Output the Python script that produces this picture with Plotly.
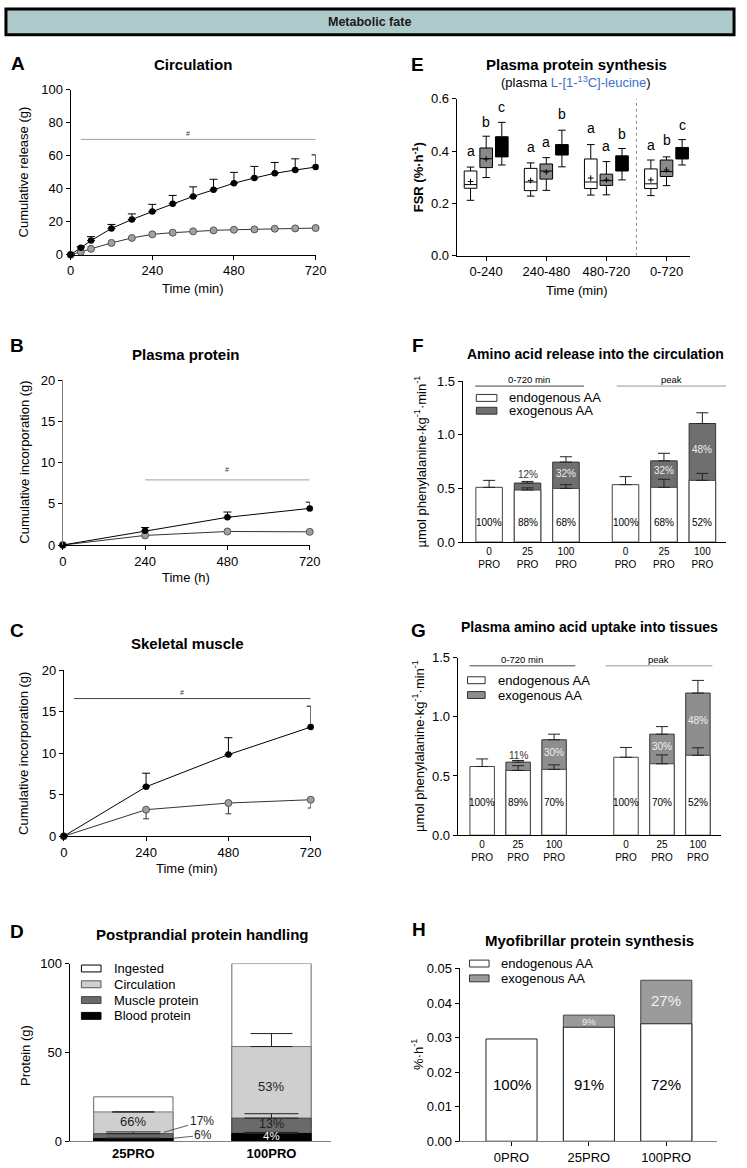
import plotly.graph_objects as go

W, H = 747, 1168
FONT = "Liberation Sans, Arial, sans-serif"

# ---------------- DATA ----------------
# A: Circulation (cumulative release, g)
A_time = [0, 30, 60, 120, 180, 240, 300, 360, 420, 480, 540, 600, 660, 720]
A_100 = [0, 4.2, 8.6, 16.0, 21.4, 26.2, 31.0, 35.4, 39.4, 43.4, 46.6, 49.4, 51.4, 53.2]
A_100_err = [0, 0.8, 2.4, 2.4, 3.4, 4.4, 5.0, 5.8, 6.4, 6.6, 7.0, 6.6, 6.8, 7.4]
A_25 = [0, 1.8, 3.6, 7.2, 10.2, 12.4, 13.4, 14.2, 14.8, 15.2, 15.4, 15.8, 16.0, 16.2]
A_25_err = [0, 0.4, 0.5, 1.0, 1.0, 1.0, 1.0, 1.0, 1.0, 1.0, 1.0, 1.0, 1.0, 1.0]

# B: Plasma protein (cumulative incorporation, g)
B_time = [0, 240, 480, 720]
B_100 = [0, 1.72, 3.36, 4.44]
B_100_err = [0, 0.4, 0.64, 0.76]
B_25 = [0, 1.16, 1.64, 1.6]
B_25_err = [0, 0.2, 0.2, 0.2]

# C: Skeletal muscle (cumulative incorporation, g)
C_time = [0, 240, 480, 720]
C_100 = [0, 5.96, 9.84, 13.16]
C_100_err = [0, 1.64, 2.04, 2.52]
C_25 = [0, 3.2, 4.0, 4.4]
C_25_err = [0, 1.1, 1.3, 1.0]

# D: Postprandial protein handling (g)
D_groups = ["25PRO", "100PRO"]
D_ingested = [25, 100]
D_circulation = [16.5, 53.3]
D_circulation_err = [0, 7.3]
D_muscle = [4.25, 13.0]
D_muscle_err = [1.0, 2.5]
D_blood = [1.5, 4.4]
D_blood_err = [0.3, 0.6]

# E: Plasma protein synthesis FSR (%/h), box summaries
E_periods = ["0-240", "240-480", "480-720", "0-720"]
E_0_low = [0.212, 0.228, 0.232, 0.230]
E_0_q1 = [0.258, 0.249, 0.257, 0.257]
E_0_med = [0.272, 0.282, 0.282, 0.275]
E_0_q3 = [0.324, 0.334, 0.370, 0.332]
E_0_high = [0.339, 0.355, 0.425, 0.366]
E_0_mean = [0.284, 0.288, 0.297, 0.290]
E_25_low = [0.299, 0.250, 0.233, 0.268]
E_25_q1 = [0.337, 0.293, 0.269, 0.303]
E_25_med = [0.371, 0.324, 0.287, 0.322]
E_25_q3 = [0.412, 0.351, 0.312, 0.366]
E_25_high = [0.457, 0.375, 0.360, 0.378]
E_25_mean = [0.370, 0.320, 0.290, 0.328]
E_100_low = [0.347, 0.340, 0.290, 0.347]
E_100_q1 = [0.378, 0.385, 0.324, 0.370]
E_100_med = [0.410, 0.400, 0.350, 0.390]
E_100_q3 = [0.455, 0.425, 0.382, 0.414]
E_100_high = [0.510, 0.480, 0.410, 0.444]
E_letters_0 = ["a", "a", "a", "a"]
E_letters_25 = ["b", "a", "a", "b"]
E_letters_100 = ["c", "b", "b", "c"]
E_letter_y_0 = [0.400, 0.415, 0.487, 0.425]
E_letter_y_25 = [0.512, 0.435, 0.418, 0.443]
E_letter_y_100 = [0.569, 0.541, 0.466, 0.501]

# F: Amino acid release into circulation
F_labels = ["0<br>PRO", "25<br>PRO", "100<br>PRO", "0<br>PRO", "25<br>PRO", "100<br>PRO"]
F_endo = [0.51, 0.485, 0.50, 0.535, 0.51, 0.575]
F_endo_err = [0.065, 0.02, 0.035, 0.075, 0.075, 0.065]
F_exo = [0, 0.065, 0.245, 0, 0.247, 0.53]
F_total_err = [0, 0.015, 0.05, 0, 0.07, 0.10]
F_endo_pct = ["100%", "88%", "68%", "100%", "68%", "52%"]
F_exo_pct = ["", "12%", "32%", "", "32%", "48%"]

# G: Plasma amino acid uptake into tissues
G_labels = ["0<br>PRO", "25<br>PRO", "100<br>PRO", "0<br>PRO", "25<br>PRO", "100<br>PRO"]
G_endo = [0.58, 0.547, 0.556, 0.658, 0.603, 0.675]
G_endo_err = [0.064, 0.04, 0.038, 0.083, 0.075, 0.063]
G_exo = [0, 0.07, 0.25, 0, 0.25, 0.525]
G_total_err = [0, 0.014, 0.047, 0, 0.064, 0.107]
G_endo_pct = ["100%", "89%", "70%", "100%", "70%", "52%"]
G_exo_pct = ["", "11%", "30%", "", "30%", "48%"]

# H: Myofibrillar protein synthesis
H_groups = ["0PRO", "25PRO", "100PRO"]
H_endo = [0.0296, 0.033, 0.034]
H_exo = [0, 0.0035, 0.0126]
H_endo_pct = ["100%", "91%", "72%"]
H_exo_pct = ["", "9%", "27%"]

# ---------------- helpers ----------------
def xd(a, b):
    return [a / W, b / W]

def yd(top, bottom):
    return [1 - bottom / H, 1 - top / H]

def PX(x):
    return x / W

def PY(y):
    return 1 - y / H

fig = go.Figure()
annotations = []
shapes = []

def ann(x, y, text, size=13, bold=False, xanchor="center", yanchor="middle",
        color="black", angle=0, xref="paper", yref="paper"):
    if bold:
        text = "<b>" + text + "</b>"
    if xref == "paper":
        x = PX(x)
    if yref == "paper":
        y = PY(y)
    annotations.append(dict(x=x, y=y, xref=xref, yref=yref, text=text, showarrow=False,
                            xanchor=xanchor, yanchor=yanchor, textangle=angle,
                            font=dict(size=size, color=color, family=FONT)))

def axis_common(**kw):
    d = dict(showline=True, linecolor="black", linewidth=1, ticks="outside", ticklen=4,
             tickwidth=1, tickcolor="black", showgrid=False, zeroline=False,
             tickfont=dict(size=13, color="black", family=FONT), fixedrange=True)
    d.update(kw)
    return d

layout_axes = {}

def set_axes(i, xdom, ydom, xkw, ykw):
    sx = "" if i == 1 else str(i)
    layout_axes["xaxis" + sx] = axis_common(domain=xdom, anchor="y" + sx, **xkw)
    layout_axes["yaxis" + sx] = axis_common(domain=ydom, anchor="x" + sx, **ykw)

# ---------------- Header ----------------
shapes.append(dict(type="rect", xref="paper", yref="paper", x0=PX(2), x1=PX(745),
                   y0=PY(2), y1=PY(28), fillcolor="#adc9c9", line=dict(color="black", width=3)))
ann(373, 15, "Metabolic fate", size=12.5, bold=True, color="#1a1a1a")

# ---------------- line panels A, B, C ----------------
def line_panel(i, t, y100, e100, y25, e25, hash_x0, hash_y, hash_tx, hash_ty, hash_color):
    sx = "" if i == 1 else str(i)
    zeros = [0] * len(t)
    fig.add_trace(go.Scatter(x=t, y=y25, mode="lines+markers", xaxis="x" + sx, yaxis="y" + sx,
                             line=dict(color="#333333", width=1),
                             marker=dict(color="#a0a0a0", size=7, line=dict(color="#555555", width=1)),
                             error_y=dict(type="data", symmetric=False, array=zeros, arrayminus=e25,
                                          color="#333333", width=3, thickness=1),
                             cliponaxis=False, showlegend=False))
    fig.add_trace(go.Scatter(x=t, y=y100, mode="lines+markers", xaxis="x" + sx, yaxis="y" + sx,
                             line=dict(color="black", width=1),
                             marker=dict(color="black", size=6.5),
                             error_y=dict(type="data", symmetric=False, array=e100, arrayminus=zeros,
                                          color="black", width=4, thickness=1),
                             cliponaxis=False, showlegend=False))
    shapes.append(dict(type="line", xref="x" + sx, yref="y" + sx, x0=hash_x0, x1=720,
                       y0=hash_y, y1=hash_y, line=dict(color=hash_color, width=1)))
    ann(hash_tx, hash_ty, "#", size=7, color="#333", xref="x" + sx, yref="y" + sx)

line_panel(1, A_time, A_100, A_100_err, A_25, A_25_err, 30, 70, 344, 73.5, "#a0a0a0")
set_axes(1, xd(68, 318), yd(84, 251),
         dict(range=[0, 720], tickvals=[0, 240, 480, 720]),
         dict(range=[0, 100], tickvals=[0, 20, 40, 60, 80, 100]))
ann(5, 57, "A", size=19, bold=True, xanchor="left")
ann(193, 58, "Circulation", size=15, bold=True)
ann(20, 167, "Cumulative release (g)", angle=-90)
ann(193, 285, "Time (min)")

line_panel(2, B_time, B_100, B_100_err, B_25, B_25_err, 240, 7.9, 480, 9.2, "#a0a0a0")
set_axes(2, xd(60, 312), yd(378, 545),
         dict(range=[0, 720], tickvals=[0, 240, 480, 720]),
         dict(range=[0, 20], tickvals=[0, 5, 10, 15, 20], linecolor="#808080"))
ann(4, 343, "B", size=19, bold=True, xanchor="left")
ann(186, 352, "Plasma protein", size=15, bold=True)
ann(20, 461, "Cumulative incorporation (g)", angle=-90)
ann(186, 578, "Time (h)")

line_panel(3, C_time, C_100, C_100_err, C_25, C_25_err, 30, 16.6, 345, 17.3, "#444444")
set_axes(3, xd(61, 313), yd(672, 840),
         dict(range=[0, 720], tickvals=[0, 240, 480, 720]),
         dict(range=[0, 20], tickvals=[0, 5, 10, 15, 20]))
ann(4, 632, "C", size=19, bold=True, xanchor="left")
ann(187, 645, "Skeletal muscle", size=15, bold=True)
ann(20, 756, "Cumulative incorporation (g)", angle=-90)
ann(187, 873, "Time (min)")

# ---------------- D ----------------
D_x = list(range(len(D_groups)))
D_w = 0.574
d_series = [
    (D_ingested, None, "white", "#666666", 0),
    (D_circulation, D_circulation_err, "#cfcfcf", "#777777", 21),
    (D_muscle, D_muscle_err, "#6a6a6a", "#444444", 27),
    (D_blood, D_blood_err, "black", "black", 27),
]
for vals, errs, fc, lc, ew in d_series:
    kw = {}
    if errs is not None:
        kw["error_y"] = dict(type="data", symmetric=False, array=errs, arrayminus=[0] * len(errs),
                             color="#222222", width=ew, thickness=1)
    fig.add_trace(go.Bar(x=D_x, y=vals, width=D_w, xaxis="x4", yaxis="y4",
                         marker=dict(color=fc, line=dict(color=lc, width=1)),
                         showlegend=False, **kw))
set_axes(4, xd(67, 334), yd(969, 1149),
         dict(range=[-0.461, 1.433], tickvals=D_x, ticktext=["<b>%s</b>" % g for g in D_groups],
              ticks="", linecolor="#808080", tickfont=dict(size=13, color="black", family=FONT)),
         dict(range=[0, 100], tickvals=[0, 50, 100]))
ann(4, 937, "D", size=19, bold=True, xanchor="left")
ann(203, 940, "Postprandial protein handling", size=15, bold=True)
ann(22, 1062, "Protein (g)", angle=-90)
ann(0, 11.3, "66%", size=13, color="#222", xref="x4", yref="y4")
ann(1, 31, "53%", size=13, color="#222", xref="x4", yref="y4")
ann(1, 9.6, "13%", size=12.5, color="#222", xref="x4", yref="y4")
ann(1, 3.0, "4%", size=11.5, color="white", xref="x4", yref="y4")
annotations.append(dict(x=0.22, y=5.0, xref="x4", yref="y4", text="17%", showarrow=True,
                        arrowhead=0, arrowwidth=0.8, arrowcolor="#333", ax=38, ay=-11,
                        font=dict(size=12, color="#222", family=FONT)))
annotations.append(dict(x=0.29, y=1.7, xref="x4", yref="y4", text="6%", showarrow=True,
                        arrowhead=0, arrowwidth=0.8, arrowcolor="#333", ax=30, ay=-3,
                        font=dict(size=12, color="#222", family=FONT)))
# legend D
d_leg = [("Ingested", "white", "black"), ("Circulation", "#cfcfcf", "#555"),
         ("Muscle protein", "#6a6a6a", "#444"), ("Blood protein", "black", "black")]
for k, (name, fc, lc) in enumerate(d_leg):
    yc = 974 + k * 16
    shapes.append(dict(type="rect", xref="paper", yref="paper", x0=PX(79), x1=PX(99),
                       y0=PY(yc + 3.5), y1=PY(yc - 3.5), fillcolor=fc, line=dict(color=lc, width=1)))
    ann(110, yc, name, size=13, xanchor="left")

# ---------------- E ----------------
E_x = list(range(len(E_periods)))
off = 0.26
e_sets = [
    (-off, E_0_low, E_0_q1, E_0_med, E_0_q3, E_0_high, E_0_mean, "white"),
    (0, E_25_low, E_25_q1, E_25_med, E_25_q3, E_25_high, E_25_mean, "#8a8a8a"),
    (off, E_100_low, E_100_q1, E_100_med, E_100_q3, E_100_high, None, "black"),
]
for dx, lo, q1, md, q3, hi, mn, fc in e_sets:
    xs = [x + dx for x in E_x]
    fig.add_trace(go.Box(x=xs, lowerfence=lo, q1=q1, median=md, q3=q3, upperfence=hi,
                         width=0.21, whiskerwidth=0.6, fillcolor=fc,
                         line=dict(color="black", width=1), boxpoints=False,
                         xaxis="x5", yaxis="y5", showlegend=False))
    if mn is not None:
        fig.add_trace(go.Scatter(x=xs, y=mn, mode="markers", xaxis="x5", yaxis="y5",
                                 marker=dict(symbol="cross-thin", size=4, line=dict(color="black", width=1)),
                                 showlegend=False))
for dx, letters, ly in [(-off, E_letters_0, E_letter_y_0), (0, E_letters_25, E_letter_y_25),
                        (off, E_letters_100, E_letter_y_100)]:
    for x, l, yv in zip(E_x, letters, ly):
        ann(x + dx, yv, l, size=14, xref="x5", yref="y5")
shapes.append(dict(type="line", xref="x5", yref="y5", x0=2.5, x1=2.5, y0=0, y1=0.6,
                   line=dict(color="#888888", width=1, dash="dot")))
set_axes(5, xd(462, 700), yd(93, 252),
         dict(range=[-0.49, 3.39], tickvals=E_x, ticktext=E_periods),
         dict(range=[0, 0.6], tickvals=[0, 0.2, 0.4, 0.6], tickformat=".1f"))
ann(413, 58, "E", size=19, bold=True, xanchor="left")
ann(584, 58, "Plasma protein synthesis", size=15, bold=True)
ann(584, 76, "(plasma <span style='color:#3a6fd0'>L-[1-<sup>13</sup>C]-leucine</span>)", size=13)
ann(422, 173, "<b>FSR (%·h<sup>-1</sup>)</b>", size=13, angle=-90)
ann(585, 287, "Time (min)")

# ---------------- F & G (overlay bars: total behind, endogenous in front) ----------------
def aa_panel(i, pos, endo, endo_err, exo, tot_err, endo_pct, exo_pct, exo_color, w,
             y_bottom_lbl, above_y, in_y):
    sx = str(i)
    tot = [a + b for a, b in zip(endo, exo)]
    idx = [k for k in range(len(exo)) if exo[k] > 0]
    fig.add_trace(go.Bar(x=[pos[k] for k in idx], y=[tot[k] for k in idx], width=w,
                         xaxis="x" + sx, yaxis="y" + sx,
                         marker=dict(color=exo_color, line=dict(color="#333333", width=1)),
                         error_y=dict(type="data", symmetric=False, array=[tot_err[k] for k in idx],
                                      arrayminus=[0] * len(idx), color="#222", width=6, thickness=1),
                         showlegend=False))
    fig.add_trace(go.Bar(x=pos, y=endo, width=w, xaxis="x" + sx, yaxis="y" + sx,
                         marker=dict(color="white", line=dict(color="#444444", width=1)),
                         error_y=dict(type="data", symmetric=False, array=endo_err,
                                      arrayminus=[0] * len(endo), color="#222", width=6, thickness=1),
                         showlegend=False))
    for k in range(len(pos)):
        ann(pos[k], y_bottom_lbl, endo_pct[k], size=10, xref="x" + sx, yref="y" + sx)
        if exo_pct[k]:
            if k == 1:
                ann(pos[k], above_y, exo_pct[k], size=10, color="#333", xref="x" + sx, yref="y" + sx)
            else:
                ann(pos[k], in_y[k], exo_pct[k], size=10, color="#eeeeee", xref="x" + sx, yref="y" + sx)

F_pos = [0, 1, 2, 3.55, 4.55, 5.55]
aa_panel(6, F_pos, F_endo, F_endo_err, F_exo, F_total_err, F_endo_pct, F_exo_pct, "#6f6f6f", 0.69,
         0.184, 0.625, [0, 0, 0.64, 0, 0.67, 0.865])
set_axes(6, xd(468, 737), yd(379, 542),
         dict(range=[-0.69, 6.17], tickvals=F_pos, ticktext=F_labels, ticks="",
              tickfont=dict(size=10, color="black", family=FONT)),
         dict(range=[0, 1.5], tickvals=[0, 0.5, 1.0, 1.5], tickformat=".1f"))
shapes.append(dict(type="line", xref="x6", yref="y6", x0=-0.36, x1=2.47, y0=1.454, y1=1.454,
                   line=dict(color="#444444", width=1)))
shapes.append(dict(type="line", xref="x6", yref="y6", x0=3.32, x1=6.17, y0=1.454, y1=1.454,
                   line=dict(color="#999999", width=1)))
ann(536, 377, "0-720 min", size=9.5)
ann(681, 377, "peak", size=9.5)
ann(414, 343, "F", size=19, bold=True, xanchor="left")
ann(604, 352, "Amino acid release into the circulation", size=14, bold=True)
ann(425, 460, "µmol phenylalanine·kg<sup>-1</sup>·min<sup>-1</sup>", size=13, angle=-90)

G_pos = [0, 1, 2, 4, 5, 6]
aa_panel(7, G_pos, G_endo, G_endo_err, G_exo, G_total_err, G_endo_pct, G_exo_pct, "#8e8e8e", 0.68,
         0.275, 0.675, [0, 0, 0.70, 0, 0.75, 0.97])
set_axes(7, xd(463, 732), yd(659, 839),
         dict(range=[-0.68, 6.65], tickvals=G_pos, ticktext=G_labels, ticks="",
              tickfont=dict(size=10, color="black", family=FONT)),
         dict(range=[0, 1.5], tickvals=[0, 0.5, 1.0, 1.5], tickformat=".1f"))
shapes.append(dict(type="line", xref="x7", yref="y7", x0=-0.35, x1=2.59, y0=1.43, y1=1.43,
                   line=dict(color="#444444", width=1)))
shapes.append(dict(type="line", xref="x7", yref="y7", x0=3.43, x1=6.4, y0=1.43, y1=1.43,
                   line=dict(color="#999999", width=1)))
ann(529, 661, "0-720 min", size=9.5)
ann(668, 661, "peak", size=9.5)
ann(413, 632, "G", size=19, bold=True, xanchor="left")
ann(598, 628, "Plasma amino acid uptake into tissues", size=14, bold=True)
ann(423, 749, "µmol phenylalanine·kg<sup>-1</sup>·min<sup>-1</sup>", size=13, angle=-90)

# legends F, G
for (x0, x1, tx, y1c, y2c, exo_c) in [(482, 503, 513, 396, 409, "#6f6f6f"),
                                      (473, 491, 502, 682, 697, "#8e8e8e")]:
    for yc, fc, name in [(y1c, "white", "endogenous AA"), (y2c, exo_c, "exogenous AA")]:
        shapes.append(dict(type="rect", xref="paper", yref="paper", x0=PX(x0), x1=PX(x1),
                           y0=PY(yc + 3.5), y1=PY(yc - 3.5), fillcolor=fc,
                           line=dict(color="#333", width=1)))
        ann(tx, yc, name, size=13, xanchor="left")

# ---------------- H ----------------
H_x = list(range(len(H_groups)))
H_tot = [a + b for a, b in zip(H_endo, H_exo)]
hidx = [k for k in range(len(H_exo)) if H_exo[k] > 0]
fig.add_trace(go.Bar(x=[H_x[k] for k in hidx], y=[H_tot[k] for k in hidx], width=0.66,
                     xaxis="x8", yaxis="y8",
                     marker=dict(color="#9b9b9b", line=dict(color="#444444", width=1)),
                     showlegend=False))
fig.add_trace(go.Bar(x=H_x, y=H_endo, width=0.66, xaxis="x8", yaxis="y8",
                     marker=dict(color="white", line=dict(color="#222222", width=1)),
                     showlegend=False))
for k in H_x:
    ann(k, 0.0164, H_endo_pct[k], size=15, xref="x8", yref="y8")
ann(1, H_endo[1] + H_exo[1] / 2, H_exo_pct[1], size=9.5, color="#eeeeee", xref="x8", yref="y8")
ann(2, 0.0407, H_exo_pct[2], size=15, color="#f2f2f2", xref="x8", yref="y8")
set_axes(8, xd(465, 728), yd(974, 1149),
         dict(range=[-0.67, 2.66], tickvals=H_x, ticktext=H_groups, linecolor="#808080"),
         dict(range=[0, 0.05], tickvals=[0, 0.01, 0.02, 0.03, 0.04, 0.05], tickformat=".2f"))
for yc, fc, name in [(969, "white", "endogenous AA"), (984, "#9b9b9b", "exogenous AA")]:
    shapes.append(dict(type="rect", xref="paper", yref="paper", x0=PX(475), x1=PX(495),
                       y0=PY(yc + 3.5), y1=PY(yc - 3.5), fillcolor=fc,
                       line=dict(color="#333", width=1)))
    ann(505, yc, name, size=13, xanchor="left")
ann(414, 935, "H", size=19, bold=True, xanchor="left")
ann(597, 946, "Myofibrillar protein synthesis", size=15, bold=True)
ann(422, 1061, "%·h<sup>-1</sup>", size=13, angle=-90)

fig.update_layout(width=W, height=H, autosize=False,
                  margin=dict(l=0, r=0, t=0, b=0),
                  paper_bgcolor="white", plot_bgcolor="white",
                  barmode="overlay", boxmode="overlay", showlegend=False,
                  font=dict(family=FONT, color="black", size=13),
                  annotations=annotations, shapes=shapes, **layout_axes)

# place the plot at the very top-left of the page (no default body margin)
POST = ("document.body.style.margin='0';document.body.style.padding='0';"
        "var d=document.getElementById('{plot_id}');d.style.position='absolute';"
        "d.style.left='0px';d.style.top='0px';")
fig.write_html("out.html", post_script=POST, config={"displayModeBar": False})
